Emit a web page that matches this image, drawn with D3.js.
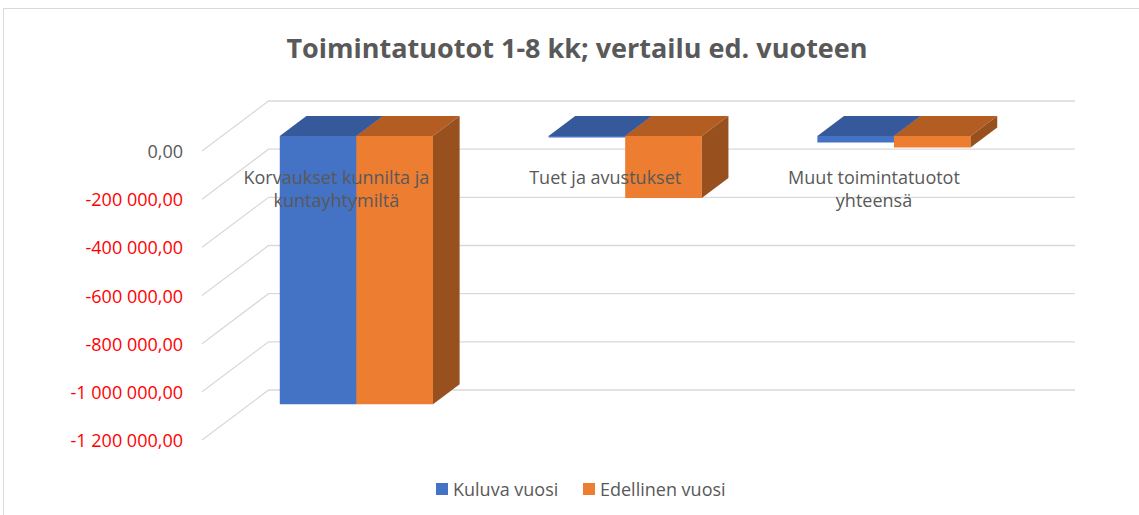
<!DOCTYPE html>
<html>
<head>
<meta charset="utf-8">
<script src="https://cdn.jsdelivr.net/npm/d3@7"></script>
<style>
  body { margin: 0; background: #fff; }
  svg { display: block; font-family: "Open Sans", Lato, sans-serif; }
</style>
</head>
<body>
<div id="chart"></div>
<script>
const categories = ["Korvaukset kunnilta ja kuntayhtymiltä", "Tuet ja avustukset", "Muut toimintatuotot yhteensä"];
const categoryLines = [["Korvaukset kunnilta ja", "kuntayhtymiltä"], ["Tuet ja avustukset"], ["Muut toimintatuotot", "yhteensä"]];
const series = ["Kuluva vuosi", "Edellinen vuosi"];
const kuluva = [-1114000, -6000, -27000];
const edellinen = [-1114000, -257000, -48000];
const yTicks = [0, -200000, -400000, -600000, -800000, -1000000, -1200000];

const width = 1139, height = 515;
const depthX = 66.6, depthY = -50;   // wall depth offset
const barD1 = 0.3, barD2 = 0.7;      // bar sits in the middle of the depth

const colors = {
    "Kuluva vuosi": { front: "#4472c4", top: "#36599b", side: "#2f4f8a" },
    "Edellinen vuosi": { front: "#ed7d31", top: "#b45d22", side: "#97501e" }
};

const locale = d3.formatLocale({ decimal: ",", thousands: "\u00a0", grouping: [3], currency: ["", "€"], minus: "-" });
const fmt = locale.format(",.2f");

const svg = d3.select("#chart").append("svg")
    .attr("width", width)
    .attr("height", height);

svg.append("rect").attr("width", width).attr("height", height).attr("fill", "#fff");

// chart border (only left/top visible in the frame)
svg.append("path")
    .attr("d", `M3.5,${height} L3.5,8.5 L${width},8.5`)
    .attr("fill", "none")
    .attr("stroke", "#d9d9d9");

svg.append("text")
    .attr("x", 577)
    .attr("y", 47)
    .attr("text-anchor", "middle")
    .attr("dominant-baseline", "central")
    .attr("font-size", 27)
    .attr("font-weight", "bold")
    .attr("fill", "#595959")
    .text("Toimintatuotot 1-8 kk; vertailu ed. vuoteen");

const y = d3.scaleLinear().domain([-1200000, 0]).range([440, 151]);
const x0 = d3.scaleBand().domain(categories).range([202, 1008.4]);
const groupW = x0.bandwidth() * 0.57;
const x1 = d3.scaleBand().domain(series)
    .range([(x0.bandwidth() - groupW) / 2, (x0.bandwidth() + groupW) / 2]);

function project(xf, v, d) {
    return [xf + d * depthX, y(v) + d * depthY];
}
const pts = arr => arr.map(p => p.join(",")).join(" ");

// gridlines: side wall diagonal + back wall
const xMin = x0.range()[0], xMax = x0.range()[1];
svg.append("g").selectAll("polyline")
    .data(yTicks)
    .enter().append("polyline")
    .attr("points", t => pts([project(xMin, t, 0), project(xMin, t, 1), project(xMax, t, 1)]))
    .attr("fill", "none")
    .attr("stroke", "#d9d9d9")
    .attr("stroke-width", 1.3);

// value axis labels
svg.append("g").selectAll("text")
    .data(yTicks)
    .enter().append("text")
    .attr("x", 183)
    .attr("y", t => y(t))
    .attr("text-anchor", "end")
    .attr("dominant-baseline", "central")
    .attr("font-size", 18)
    .attr("fill", t => t < 0 ? "#ff0000" : "#595959")
    .text(t => fmt(t));

// bars
const barData = [];
categories.forEach((c, i) => {
    barData.push({ cat: c, s: series[0], v: kuluva[i] });
    barData.push({ cat: c, s: series[1], v: edellinen[i] });
});

const bars = svg.append("g").selectAll("g")
    .data(barData)
    .enter().append("g");

bars.append("polygon")
    .attr("points", d => {
        const xl = x0(d.cat) + x1(d.s), xr = xl + x1.bandwidth();
        return pts([project(xl, 0, barD1), project(xr, 0, barD1), project(xr, d.v, barD1), project(xl, d.v, barD1)]);
    })
    .attr("fill", d => colors[d.s].front);

bars.append("polygon")
    .attr("points", d => {
        const xl = x0(d.cat) + x1(d.s), xr = xl + x1.bandwidth();
        return pts([project(xl, 0, barD1), project(xr, 0, barD1), project(xr, 0, barD2), project(xl, 0, barD2)]);
    })
    .attr("fill", d => colors[d.s].top);

bars.append("polygon")
    .attr("points", d => {
        const xr = x0(d.cat) + x1(d.s) + x1.bandwidth();
        return pts([project(xr, 0, barD1), project(xr, 0, barD2), project(xr, d.v, barD2), project(xr, d.v, barD1)]);
    })
    .attr("fill", d => colors[d.s].side);

// category labels (drawn on top of bars, below the zero line)
const catLabels = svg.append("g").selectAll("text")
    .data(categories)
    .enter().append("text")
    .attr("x", d => x0(d) + x0.bandwidth() / 2)
    .attr("y", 178)
    .attr("text-anchor", "middle")
    .attr("font-size", 18)
    .attr("fill", "#595959");

catLabels.selectAll("tspan")
    .data((d, i) => categoryLines[i])
    .enter().append("tspan")
    .attr("x", function() { return d3.select(this.parentNode).attr("x"); })
    .attr("dy", (d, i) => i === 0 ? "0.35em" : 23)
    .text(d => d);

// legend
const legendX = [436, 583];
const legend = svg.append("g").selectAll("g")
    .data(series)
    .enter().append("g")
    .attr("transform", (d, i) => `translate(${legendX[i]},489)`);

legend.append("rect")
    .attr("x", 0).attr("y", -6)
    .attr("width", 12).attr("height", 12)
    .attr("fill", d => colors[d].front);

legend.append("text")
    .attr("x", 17)
    .attr("dominant-baseline", "central")
    .attr("font-size", 18)
    .attr("fill", "#595959")
    .text(d => d);
</script>
</body>
</html>
